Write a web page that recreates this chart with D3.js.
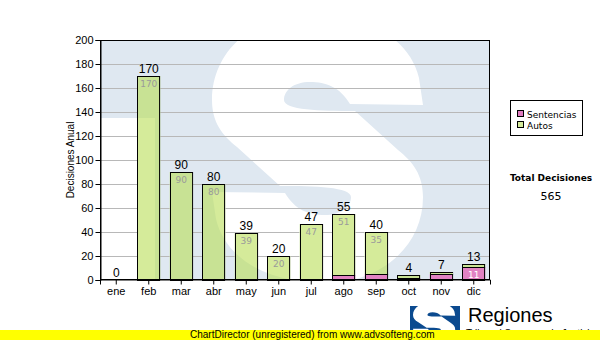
<!DOCTYPE html>
<html>
<head>
<meta charset="utf-8">
<script src="https://cdn.jsdelivr.net/npm/d3@7"></script>
<style>
  html, body { margin: 0; padding: 0; background: #fff; }
  svg { display: block; }
</style>
</head>
<body>
<svg id="chart" width="600" height="340"></svg>
<script>
// Monthly decisions, split by type
const months = ["ene", "feb", "mar", "abr", "may", "jun", "jul", "ago", "sep", "oct", "nov", "dic"];
const sentencias = [0, 0, 0, 0, 0, 0, 0, 4, 5, 2, 5, 11];
const autos = [0, 170, 90, 80, 39, 20, 47, 51, 35, 2, 2, 2];
const seriesNames = ["Sentencias", "Autos"];
const yTickValues = [0, 20, 40, 60, 80, 100, 120, 140, 160, 180, 200];

const colors = { Sentencias: "#e07cc0", Autos: "#b9de56" };
const arial = "'Liberation Sans', Arial, sans-serif";
const verdana = "'DejaVu Sans', Verdana, sans-serif";

const svg = d3.select("#chart");
const plot = { left: 100, top: 40, right: 490, bottom: 280 };

const x = d3.scaleBand().domain(months)
  .range([plot.left, plot.right]).paddingInner(0.29).paddingOuter(0.145);
const y = d3.scaleLinear().domain([0, 200]).range([plot.bottom, plot.top]);
const ry = v => Math.round(y(v));

const rows = months.map((m, i) => ({ month: m, Sentencias: sentencias[i], Autos: autos[i] }));
const stacked = d3.stack().keys(seriesNames)(rows);
const totals = rows.map(r => r.Sentencias + r.Autos);

// Emblem "S" outline: one half is drawn, the other is its point reflection.
const emblemCentre = [317.5, 148.5];
const halfA = [                       // from the upper terminal into the spine
  ["L", [350, 104]],
  ["C", [340, 87], [326, 82], [310, 82]],
  ["C", [294, 82], [284, 90], [284, 100]],
  ["C", [284, 110], [320, 111], [355, 111]],
  ["L", [398, 150]]
];
const halfB = [                       // outer bowl, from the spine round to the terminal
  ["C", [222, 135], [212, 122], [212, 100]],
  ["C", [212, 50], [255, 14], [310, 14]],
  ["C", [370, 14], [410, 40], [419, 78]],
  ["L", [423, 105]]
];
function emblemPath() {
  const flip = p => [2 * emblemCentre[0] - p[0], 2 * emblemCentre[1] - p[1]];
  const seg = (s, f) => s[0] + s.slice(1).map(p => f(p).join(",")).join(" ");
  const id = p => p;
  const parts = ["M423,105"];
  halfA.forEach(s => parts.push(seg(s, id)));
  halfB.forEach(s => parts.push(seg(s, flip)));
  halfA.forEach(s => parts.push(seg(s, flip)));
  halfB.forEach(s => parts.push(seg(s, id)));
  return parts.join(" ") + "Z";
}
const emblemD = emblemPath();

// one entry per visible bar segment
const segments = [];
stacked.forEach(s => s.forEach((d, i) => {
  if (d[1] > d[0]) segments.push({ key: s.key, i, lo: d[0], hi: d[1] });
}));

const defs = svg.append("defs");
defs.append("clipPath").attr("id", "plotClip")
  .append("rect").attr("x", plot.left).attr("y", plot.top)
  .attr("width", plot.right - plot.left).attr("height", plot.bottom - plot.top);

// clip covering every bar, so the backdrop can be repainted under them
defs.append("clipPath").attr("id", "barClip").selectAll("rect").data(segments).join("rect")
  .attr("x", s => x(months[s.i])).attr("y", s => ry(s.hi))
  .attr("width", x.bandwidth()).attr("height", s => ry(s.lo) - ry(s.hi));

// backdrop: pale blue with a large white "S" emblem
function drawBackdrop(g) {
  g.append("rect").attr("x", plot.left).attr("y", plot.top)
    .attr("width", plot.right - plot.left).attr("height", plot.bottom - plot.top)
    .attr("fill", "#dfe8f1");
  g.append("rect").attr("x", plot.left).attr("y", 118)
    .attr("width", 55).attr("height", plot.bottom - 118).attr("fill", "#fff");
  g.append("path").attr("d", emblemD).attr("fill", "#fff");
}
drawBackdrop(svg.append("g").attr("clip-path", "url(#plotClip)"));

// horizontal grid
svg.append("g").selectAll("line").data(yTickValues.slice(1, -1)).join("line")
  .attr("x1", plot.left).attr("x2", plot.right)
  .attr("y1", d => y(d) + 0.5).attr("y2", d => y(d) + 0.5)
  .attr("stroke", "#b8b8b8").attr("stroke-width", 1);

// backdrop again under the bars, hiding the grid there
drawBackdrop(svg.append("g").attr("clip-path", "url(#barClip)").append("g"));

// stacked bars: translucent fill, then a one-pixel outline per segment
const barG = svg.append("g");
barG.append("g").selectAll("rect").data(segments).join("rect")
  .attr("x", s => x(months[s.i]))
  .attr("y", s => ry(s.hi))
  .attr("width", x.bandwidth())
  .attr("height", s => ry(s.lo) - ry(s.hi))
  .attr("fill", s => colors[s.key])
  .attr("fill-opacity", s => s.key === "Autos" ? 0.6 : 0.95);
barG.append("g").selectAll("rect").data(segments).join("rect")
  .attr("x", s => Math.round(x(months[s.i])) + 0.5)
  .attr("y", s => ry(s.hi) + 0.5)
  .attr("width", x.bandwidth() - 1)
  .attr("height", s => ry(s.lo) - ry(s.hi))
  .attr("fill", "none")
  .attr("stroke", "#000").attr("stroke-width", 1);

// segment labels inside bars
barG.append("g").selectAll("text")
  .data(segments.filter(s => y(s.lo) - y(s.hi) >= 12))
  .join("text")
  .attr("x", s => x(months[s.i]) + x.bandwidth() / 2)
  .attr("y", s => y(s.hi) + 11)
  .attr("text-anchor", "middle")
  .attr("font-family", verdana).attr("font-size", 9)
  .attr("fill", s => s.key === "Autos" ? "#9a9a9a" : "#fff")
  .text(s => s.hi - s.lo);

// total labels above bars
svg.append("g").selectAll("text").data(totals).join("text")
  .attr("x", (d, i) => x(months[i]) + x.bandwidth() / 2)
  .attr("y", d => y(d) - 3)
  .attr("text-anchor", "middle")
  .attr("font-family", arial).attr("font-size", 12).attr("fill", "#000")
  .text(d => d);

// plot frame
svg.append("rect").attr("x", plot.left + 0.5).attr("y", plot.top + 0.5)
  .attr("width", plot.right - plot.left - 1).attr("height", plot.bottom - plot.top - 1)
  .attr("fill", "none").attr("stroke", "#000");

// axes
const yAxis = svg.append("g").attr("transform", `translate(${plot.left + 0.5},0)`)
  .call(d3.axisLeft(y).tickValues(yTickValues).tickSize(5).tickPadding(2));
const xAxis = svg.append("g").attr("transform", `translate(0,${plot.bottom - 0.5})`)
  .call(d3.axisBottom(x).tickSize(5).tickPadding(3));
[yAxis, xAxis].forEach(a => {
  a.select(".domain").attr("stroke", "#000");
  a.selectAll(".tick line").attr("stroke", "#000");
  a.selectAll(".tick text").attr("font-family", arial).attr("font-size", 11).attr("fill", "#000");
});

// y-axis title
svg.append("text")
  .attr("transform", `translate(73.5,${(plot.top + plot.bottom) / 2}) rotate(-90)`)
  .attr("text-anchor", "middle")
  .attr("font-family", arial).attr("font-size", 10).attr("fill", "#000")
  .text("Decisiones Anual");

// legend
const legend = svg.append("g");
legend.append("rect").attr("x", 510.5).attr("y", 100.5).attr("width", 72).attr("height", 35)
  .attr("fill", "#fff").attr("stroke", "#000");
seriesNames.forEach((name, i) => {
  legend.append("rect").attr("x", 517.5).attr("y", 110.5 + i * 11).attr("width", 6).attr("height", 6)
    .attr("fill", name === "Autos" ? "#d5eb9b" : colors[name]).attr("stroke", "#000");
  legend.append("text").attr("x", 527).attr("y", 117.5 + i * 11)
    .attr("font-family", verdana).attr("font-size", 9).attr("fill", "#000").text(name);
});

// grand total
svg.append("text").attr("x", 551).attr("y", 181).attr("text-anchor", "middle")
  .attr("font-family", verdana).attr("font-size", 9).attr("font-weight", "bold")
  .text("Total Decisiones");
svg.append("text").attr("x", 551).attr("y", 200).attr("text-anchor", "middle")
  .attr("font-family", verdana).attr("font-size", 11)
  .text(d3.sum(totals));

// emblem and name at the foot
const brand = svg.append("g");
defs.append("clipPath").attr("id", "iconClip")
  .append("rect").attr("x", 410).attr("y", 306).attr("width", 50).attr("height", 34);
const icon = brand.append("g").attr("clip-path", "url(#iconClip)");
icon.append("rect").attr("x", 410).attr("y", 306).attr("width", 50).attr("height", 34).attr("fill", "#0b4a8f");
icon.append("path").attr("d", emblemD).attr("fill", "#fff")
  .attr("transform", "translate(413,302) scale(0.2,0.15) translate(-212,-14)");
brand.append("text").attr("x", 468).attr("y", 322)
  .attr("font-family", arial).attr("font-size", 20).attr("fill", "#000").text("Regiones");
brand.append("text").attr("x", 466).attr("y", 337)
  .attr("font-family", arial).attr("font-size", 10).attr("fill", "#000").text("Tribunal Supremo de Justicia");

// footer band
svg.append("rect").attr("x", 0).attr("y", 330).attr("width", 600).attr("height", 10).attr("fill", "#ffff00");
svg.append("text").attr("x", 190).attr("y", 338)
  .attr("font-family", arial).attr("font-size", 10).attr("fill", "#000")
  .text("ChartDirector (unregistered) from www.advsofteng.com");
</script>
</body>
</html>
